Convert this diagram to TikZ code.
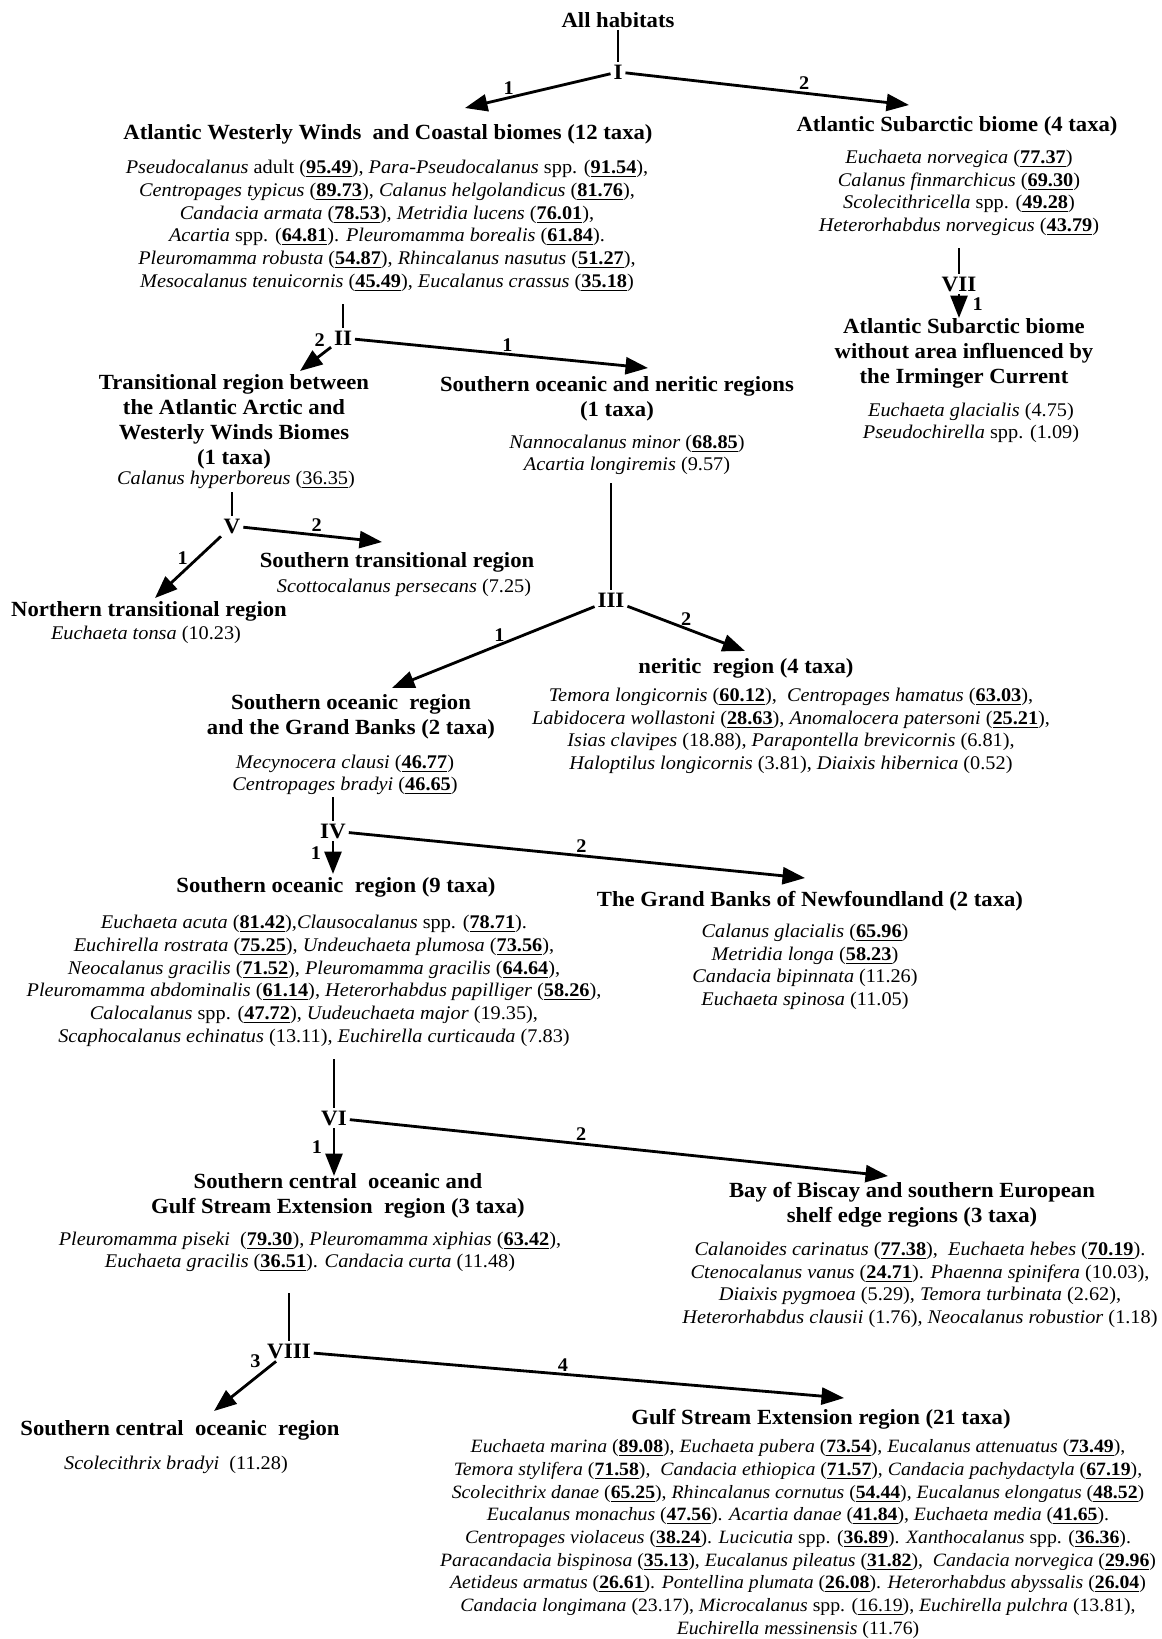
\documentclass[tikz,border=0pt]{standalone}
\usepackage{fontspec}
\setmainfont{Liberation Serif}[FakeStretch=1.05]
\usetikzlibrary{arrows.meta, positioning}

\newcommand{\sv}[1]{\underline{\textbf{#1}}}

\begin{document}
\begin{tikzpicture}[x=0.02cm, y=-0.02cm,
    % Define node styles
    head/.style={font=\fontsize{12.3}{14.2}\selectfont\bfseries, align=center, inner sep=1pt},
    taxa/.style={font=\fontsize{11}{12.9}\selectfont, align=center, inner sep=1pt},
    num/.style={font=\fontsize{12.5}{14}\selectfont\bfseries, inner sep=1.5pt},
    lbl/.style={font=\fontsize{11}{13}\selectfont\bfseries, inner sep=1pt},
    arr/.style={-{Triangle[length=4.5mm, width=3.4mm]}, line width=1.6pt},
    stem/.style={line width=1.6pt}
]
    \useasboundingbox (0,0) rectangle (1162,1639);

    % Create nodes
    \node[head] (all) at (618,20) {All habitats};
    \node[num] (nI) at (618,72) {I};

    \node[head] (hA) at (388,134) {Atlantic Westerly Winds\ \ and Coastal biomes (12 taxa)};
    \node[taxa] (tA) at (387,226) {\textit{Pseudocalanus} adult (\sv{95.49}), \textit{Para-Pseudocalanus} spp. (\sv{91.54}),\\
        \textit{Centropages typicus} (\sv{89.73}), \textit{Calanus helgolandicus} (\sv{81.76}),\\
        \textit{Candacia armata} (\sv{78.53}), \textit{Metridia lucens} (\sv{76.01}),\\
        \textit{Acartia} spp. (\sv{64.81}). \textit{Pleuromamma borealis} (\sv{61.84}).\\
        \textit{Pleuromamma robusta} (\sv{54.87}), \textit{Rhincalanus nasutus} (\sv{51.27}),\\
        \textit{Mesocalanus tenuicornis} (\sv{45.49}), \textit{Eucalanus crassus} (\sv{35.18})};

    \node[head] (hB) at (957,126) {Atlantic Subarctic biome (4 taxa)};
    \node[taxa] (tB) at (959,193) {\textit{Euchaeta norvegica} (\sv{77.37})\\
        \textit{Calanus finmarchicus} (\sv{69.30})\\
        \textit{Scolecithricella} spp. (\sv{49.28})\\
        \textit{Heterorhabdus norvegicus} (\sv{43.79})};
    \node[num] (nVII) at (959,284) {VII};
    \node[head] (hC) at (964,353) {Atlantic Subarctic biome\\without area influenced by\\the Irminger Current};
    \node[taxa] (tC) at (971,423) {\textit{Euchaeta glacialis} (4.75)\\\textit{Pseudochirella} spp. (1.09)};

    \node[num] (nII) at (343,338) {II};
    \node[head] (hD) at (234,422) {Transitional region between\\the Atlantic Arctic and\\Westerly Winds Biomes\\(1 taxa)};
    \node[taxa] (tD) at (236,480) {\textit{Calanus hyperboreus} (\underline{36.35})};
    \node[head] (hE) at (617,399) {Southern oceanic and neritic regions\\(1 taxa)};
    \node[taxa] (tE) at (627,455) {\textit{Nannocalanus minor} (\sv{68.85})\\\textit{Acartia longiremis} (9.57)};

    \node[num] (nV) at (232,526) {V};
    \node[head] (hH) at (397,562) {Southern transitional region};
    \node[taxa] (tH) at (404,588) {\textit{Scottocalanus persecans} (7.25)};
    \node[head] (hI) at (149,611) {Northern transitional region};
    \node[taxa] (tI) at (146,635) {\textit{Euchaeta tonsa} (10.23)};

    \node[num] (nIII) at (611,600) {III};
    \node[head] (hF) at (351,717) {Southern oceanic\ \ region\\and the Grand Banks (2 taxa)};
    \node[taxa] (tF) at (345,775) {\textit{Mecynocera clausi} (\sv{46.77})\\\textit{Centropages bradyi} (\sv{46.65})};
    \node[head] (hG) at (746,668) {neritic\ \ region (4 taxa)};
    \node[taxa] (tG) at (791,731) {\textit{Temora longicornis} (\sv{60.12}),\ \ \textit{Centropages hamatus} (\sv{63.03}),\\
        \textit{Labidocera wollastoni} (\sv{28.63}), \textit{Anomalocera patersoni} (\sv{25.21}),\\
        \textit{Isias clavipes} (18.88), \textit{Parapontella brevicornis} (6.81),\\
        \textit{Haloptilus longicornis} (3.81), \textit{Diaixis hibernica} (0.52)};

    \node[num] (nIV) at (333,831) {IV};
    \node[head] (hJ) at (336,887) {Southern oceanic\ \ region (9 taxa)};
    \node[taxa] (tJ) at (314,981) {\textit{Euchaeta acuta} (\sv{81.42}),\textit{Clausocalanus} spp. (\sv{78.71}).\\
        \textit{Euchirella rostrata} (\sv{75.25}), \textit{Undeuchaeta plumosa} (\sv{73.56}),\\
        \textit{Neocalanus gracilis} (\sv{71.52}), \textit{Pleuromamma gracilis} (\sv{64.64}),\\
        \textit{Pleuromamma abdominalis} (\sv{61.14}), \textit{Heterorhabdus papilliger} (\sv{58.26}),\\
        \textit{Calocalanus} spp. (\sv{47.72}), \textit{Uudeuchaeta major} (19.35),\\
        \textit{Scaphocalanus echinatus} (13.11), \textit{Euchirella curticauda} (7.83)};
    \node[head] (hK) at (810,901) {The Grand Banks of Newfoundland (2 taxa)};
    \node[taxa] (tK) at (805,967) {\textit{Calanus glacialis} (\sv{65.96})\\
        \textit{Metridia longa} (\sv{58.23})\\
        \textit{Candacia bipinnata} (11.26)\\
        \textit{Euchaeta spinosa} (11.05)};

    \node[num] (nVI) at (334,1118) {VI};
    \node[head] (hL) at (338,1196) {Southern central\ \ oceanic and\\Gulf Stream Extension\ \ region (3 taxa)};
    \node[taxa] (tL) at (310,1252) {\textit{Pleuromamma piseki}\ \ (\sv{79.30}), \textit{Pleuromamma xiphias} (\sv{63.42}),\\
        \textit{Euchaeta gracilis} (\sv{36.51}). \textit{Candacia curta} (11.48)};
    \node[head] (hM) at (912,1205) {Bay of Biscay and southern European\\shelf edge regions (3 taxa)};
    \node[taxa] (tM) at (920,1285) {\textit{Calanoides carinatus} (\sv{77.38}),\ \ \textit{Euchaeta hebes} (\sv{70.19}).\\
        \textit{Ctenocalanus vanus} (\sv{24.71}). \textit{Phaenna spinifera} (10.03),\\
        \textit{Diaixis pygmoea} (5.29), \textit{Temora turbinata} (2.62),\\
        \textit{Heterorhabdus clausii} (1.76), \textit{Neocalanus robustior} (1.18)};

    \node[num] (nVIII) at (289,1351) {VIII};
    \node[head] (hN) at (180,1430) {Southern central\ \ oceanic\ \ region};
    \node[taxa] (tN) at (176,1465) {\textit{Scolecithrix bradyi}\ \ (11.28)};
    \node[head] (hO) at (821,1419) {Gulf Stream Extension region (21 taxa)};
    \node[taxa, font=\fontsize{10.7}{12.9}\selectfont] (tO) at (798,1539) {\textit{Euchaeta marina} (\sv{89.08}), \textit{Euchaeta pubera} (\sv{73.54}), \textit{Eucalanus attenuatus} (\sv{73.49}),\\
        \textit{Temora stylifera} (\sv{71.58}),\ \ \textit{Candacia ethiopica} (\sv{71.57}), \textit{Candacia pachydactyla} (\sv{67.19}),\\
        \textit{Scolecithrix danae} (\sv{65.25}), \textit{Rhincalanus cornutus} (\sv{54.44}), \textit{Eucalanus elongatus} (\sv{48.52})\\
        \textit{Eucalanus monachus} (\sv{47.56}). \textit{Acartia danae} (\sv{41.84}), \textit{Euchaeta media} (\sv{41.65}).\\
        \textit{Centropages violaceus} (\sv{38.24}). \textit{Lucicutia} spp. (\sv{36.89}). \textit{Xanthocalanus} spp. (\sv{36.36}).\\
        \textit{Paracandacia bispinosa} (\sv{35.13}), \textit{Eucalanus pileatus} (\sv{31.82}),\ \ \textit{Candacia norvegica} (\sv{29.96})\\
        \textit{Aetideus armatus} (\sv{26.61}). \textit{Pontellina plumata} (\sv{26.08}). \textit{Heterorhabdus abyssalis} (\sv{26.04})\\
        \textit{Candacia longimana} (23.17), \textit{Microcalanus} spp. (\underline{16.19}), \textit{Euchirella pulchra} (13.81),\\
        \textit{Euchirella messinensis} (11.76)};

    % Arrow tips and stem tops
    \coordinate (aA) at (465,108);
    \coordinate (aB) at (909,105);
    \coordinate (aC) at (959,318);
    \coordinate (aD) at (300,371);
    \coordinate (aE) at (648,368);
    \coordinate (aF) at (392,688);
    \coordinate (aG) at (745,651);
    \coordinate (aH) at (382,542);
    \coordinate (aI) at (155,598);
    \coordinate (aJ) at (333,874);
    \coordinate (aK) at (805,878);
    \coordinate (aL) at (334,1176);
    \coordinate (aM) at (888,1176);
    \coordinate (aN) at (214,1411);
    \coordinate (aO) at (844,1398);
    \coordinate (sVII) at (959,248);
    \coordinate (sII) at (343,304);
    \coordinate (sIII) at (611,483);
    \coordinate (sV) at (232,492);
    \coordinate (sIV) at (333,797);
    \coordinate (sVI) at (334,1059);
    \coordinate (sVIII) at (289,1293);

    % Draw stems
    \draw[stem] (all) -- (nI);
    \draw[stem] (sVII) -- (nVII);
    \draw[stem] (sII) -- (nII);
    \draw[stem] (sIII) -- (nIII);
    \draw[stem] (sV) -- (nV);
    \draw[stem] (sIV) -- (nIV);
    \draw[stem] (sVI) -- (nVI);
    \draw[stem] (sVIII) -- (nVIII);

    % Draw arrows between nodes
    \draw[arr] (nI) -- node[lbl, above, pos=0.7] {1} (aA);
    \draw[arr] (nI) -- node[lbl, above, pos=0.63] {2} (aB);
    \draw[arr] (nVII) -- node[lbl, right=6pt, pos=0.4] {1} (aC);
    \draw[arr] (nII) -- node[lbl, above left, pos=0.1] {2} (aD);
    \draw[arr] (nII) -- node[lbl, above, pos=0.52] {1} (aE);
    \draw[arr] (nIII) -- node[lbl, above, pos=0.47] {1} (aF);
    \draw[arr] (nIII) -- node[lbl, above, pos=0.5] {2} (aG);
    \draw[arr] (nV) -- node[lbl, left=4pt, pos=0.35] {1} (aI);
    \draw[arr] (nV) -- node[lbl, above, pos=0.53] {2} (aH);
    \draw[arr] (nIV) -- node[lbl, left=5pt, pos=0.35] {1} (aJ);
    \draw[arr] (nIV) -- node[lbl, above, pos=0.51] {2} (aK);
    \draw[arr] (nVI) -- node[lbl, left=5pt, pos=0.4] {1} (aL);
    \draw[arr] (nVI) -- node[lbl, above, pos=0.43] {2} (aM);
    \draw[arr] (nVIII) -- node[lbl, above left, pos=0.2] {3} (aN);
    \draw[arr] (nVIII) -- node[lbl, above, pos=0.47] {4} (aO);
\end{tikzpicture}
\end{document}
